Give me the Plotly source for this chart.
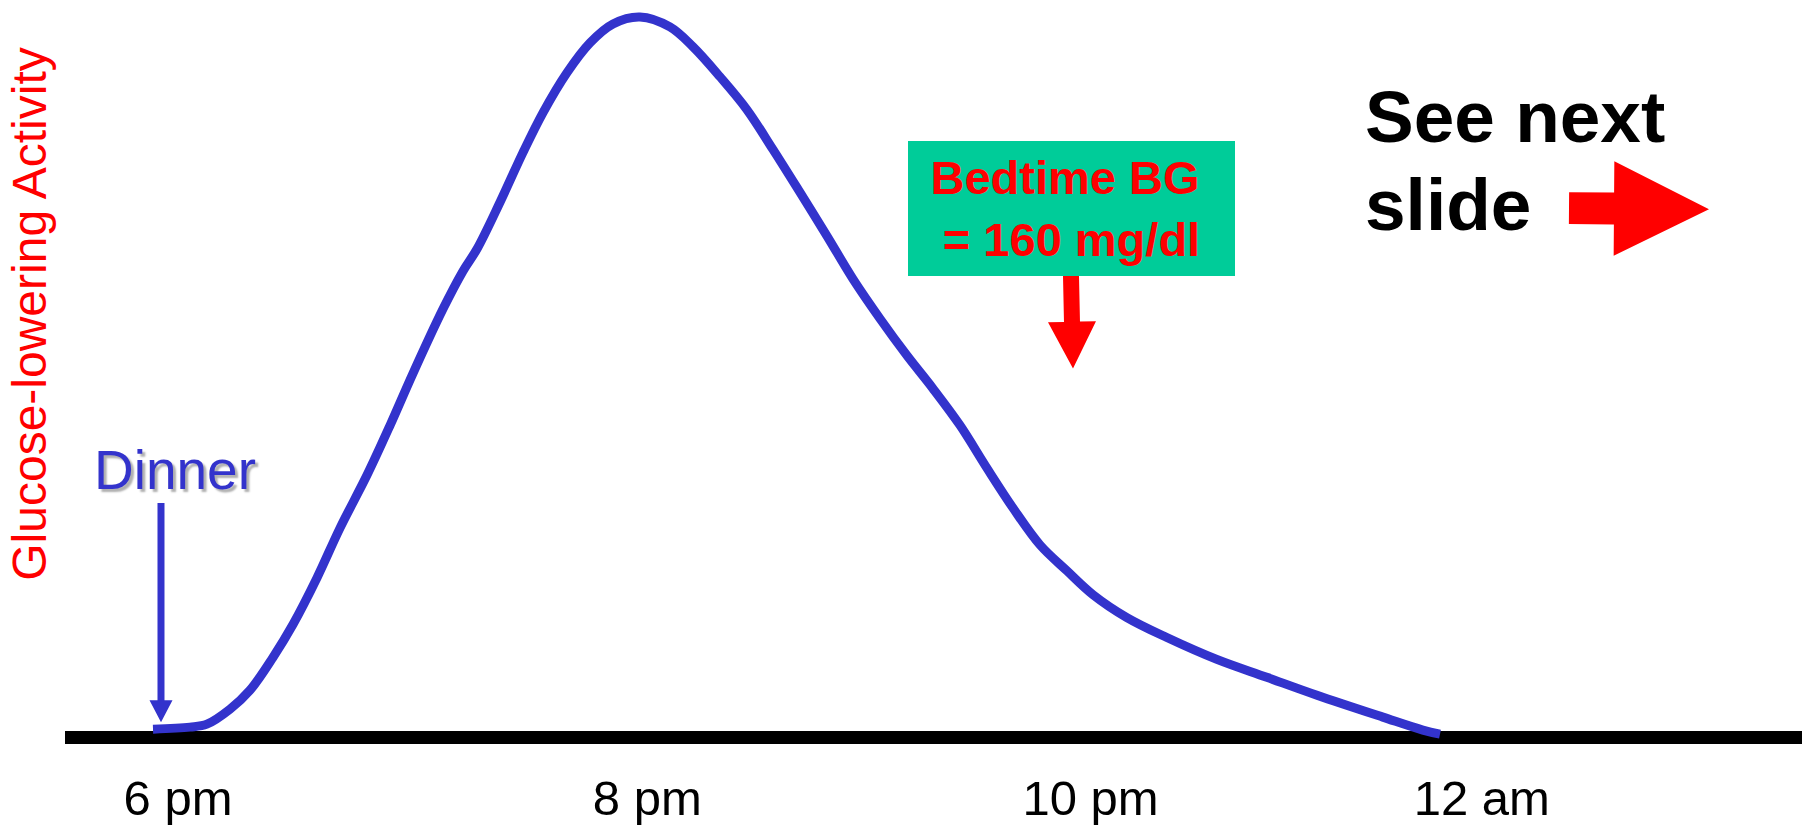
import plotly.graph_objects as go

# curve: time in hours (18 = 6 pm) and relative activity (peak ~100)
hours = [17.885, 18.055, 18.133, 18.239, 18.331, 18.437, 18.529, 18.640, 18.746, 18.870,
         18.976, 19.081, 19.220, 19.312, 19.376, 19.482, 19.588, 19.680, 19.790, 19.896,
         20.002, 20.126, 20.264, 20.370, 20.494, 20.618, 20.738, 20.862, 20.987, 21.106,
         21.231, 21.355, 21.474, 21.599, 21.723, 21.843, 21.967, 22.091, 22.211, 22.367,
         22.551, 22.781, 23.011, 23.242, 23.545, 23.729, 23.808]
activity = [1.10, 1.38, 1.79, 3.86, 6.48, 11.03, 15.59, 22.07, 28.97, 36.28,
            43.17, 50.34, 59.31, 64.55, 67.59, 74.07, 80.97, 86.48, 92.00, 96.14,
            98.76, 99.72, 98.34, 95.59, 91.45, 86.90, 81.38, 75.45, 69.38, 63.45,
            57.93, 52.83, 48.28, 43.17, 37.24, 31.72, 26.62, 23.03, 19.72, 16.55,
            13.79, 10.76, 8.28, 5.79, 2.76, 0.97, 0.41]

tick_vals = [18, 20.16, 22.2, 24]
tick_text = ['6 pm', '8 pm', '10 pm', '12 am']

# page geometry
W, H = 1802, 825
L, R, T, B = 65, 0, 0, 65
FONT = 'Liberation Sans, Arial, sans-serif'
BLUE = '#3333CC'
RED = '#FF0000'


def px(x):
    return (x - L) / (W - L - R)


def py(y):
    return (H - B - y) / (H - T - B)


fig = go.Figure()

fig.add_trace(go.Scatter(
    x=hours,
    y=activity,
    mode='lines',
    line=dict(color=BLUE, width=9, shape='spline', smoothing=1.0),
    hoverinfo='skip',
    showlegend=False
))


def block_arrow(x0, y0, x1, y1, shaft, head_w, head_len, color):
    # arrow from tail (x0, y0) to tip (x1, y1), page pixels
    dx, dy = x1 - x0, y1 - y0
    n = (dx * dx + dy * dy) ** 0.5
    ux, uy = dx / n, dy / n
    nx, ny = -uy, ux
    bx, by = x1 - ux * head_len, y1 - uy * head_len
    pts = [(x0 + nx * shaft / 2, y0 + ny * shaft / 2),
           (bx + nx * shaft / 2, by + ny * shaft / 2),
           (bx + nx * head_w / 2, by + ny * head_w / 2),
           (x1, y1),
           (bx - nx * head_w / 2, by - ny * head_w / 2),
           (bx - nx * shaft / 2, by - ny * shaft / 2),
           (x0 - nx * shaft / 2, y0 - ny * shaft / 2)]
    path = 'M ' + ' L '.join(f'{px(x):.5f},{py(y):.5f}' for x, y in pts) + ' Z'
    fig.add_shape(type='path', path=path, xref='paper', yref='paper',
                  fillcolor=color, line_width=0)


block_arrow(161, 505, 161, 725, 7, 23, 22, BLUE)        # dinner
block_arrow(1071, 277, 1073, 370, 16, 48, 47, RED)      # bedtime
block_arrow(1569, 209, 1709, 210, 32, 95, 95, RED)      # next slide

annotations = [
    # y axis title
    dict(text='Glucose-lowering Activity', x=px(30), y=py(315), textangle=-90,
         font=dict(family=FONT, size=48, color=RED)),
    # Dinner label
    dict(text='Dinner', x=px(175), y=py(472),
         font=dict(family=FONT, size=55, color=BLUE, shadow='3px 3px 2px #b0b0b0')),
    # bedtime box
    dict(text='Bedtime BG\u00a0<br>= 160 mg/dl', x=px(1071.5), y=py(209.5),
         font=dict(family=FONT, size=47, color=RED, weight='bold'),
         bgcolor='#00CC99', width=327, height=135, borderpad=0, borderwidth=0,
         align='center', valign='middle'),
    # see next slide
    dict(text='See next', x=px(1363), y=py(117), xanchor='left',
         font=dict(family=FONT, size=73, color='black', weight='bold')),
    dict(text='slide', x=px(1363), y=py(205), xanchor='left',
         font=dict(family=FONT, size=73, color='black', weight='bold')),
]
for a in annotations:
    a.setdefault('xref', 'paper')
    a.setdefault('yref', 'paper')
    a.setdefault('xanchor', 'center')
    a.setdefault('yanchor', 'middle')
    a.setdefault('showarrow', False)
    fig.add_annotation(**a)

fig.update_layout(
    width=W, height=H,
    margin=dict(l=L, r=R, t=T, b=B),
    plot_bgcolor='white',
    paper_bgcolor='white',
    showlegend=False
)

fig.update_xaxes(
    range=[17.480, 25.474],
    tickvals=tick_vals,
    ticktext=tick_text,
    ticks='',
    ticklabelstandoff=8,
    tickfont=dict(family=FONT, size=49, color='black'),
    showgrid=False,
    showline=False,
    zeroline=False
)
fig.update_yaxes(
    range=[-2.76, 102.07],
    showticklabels=False,
    ticks='',
    showgrid=False,
    zeroline=True,
    zerolinecolor='black',
    zerolinewidth=13
)

fig.write_html('out.html', config={'displayModeBar': False},
               post_script="document.body.style.margin = '0';")
